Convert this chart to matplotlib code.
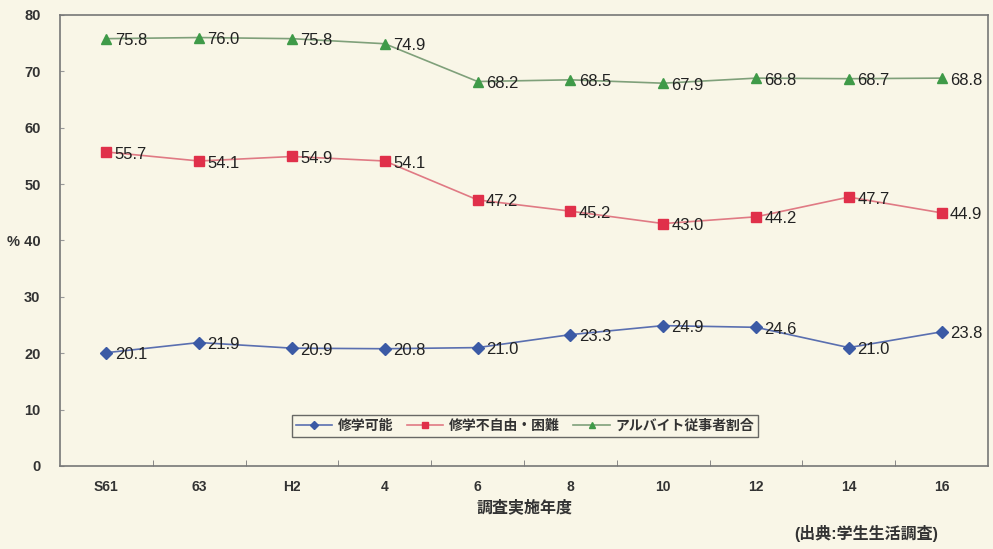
import numpy as np
import matplotlib.pyplot as plt

plt.rcParams['font.family'] = ['Liberation Sans', 'Noto Sans CJK JP', 'DejaVu Sans']

# survey years and share of students (%)
years = ['S61', '63', 'H2', '4', '6', '8', '10', '12', '14', '16']
study_ok = [20.1, 21.9, 20.9, 20.8, 21.0, 23.3, 24.9, 24.6, 21.0, 23.8]
study_hard = [55.7, 54.1, 54.9, 54.1, 47.2, 45.2, 43.0, 44.2, 47.7, 44.9]
part_time = [75.8, 76.0, 75.8, 74.9, 68.2, 68.5, 67.9, 68.8, 68.7, 68.8]
series_names = ['修学可能', '修学不自由・困難', 'アルバイト従事者割合']
yticks = [0, 10, 20, 30, 40, 50, 60, 70, 80]
ytick_labels = ['0', '10', '20', '30', '% 40', '50', '60', '70', '80']

bg = '#f9f6e7'
fig = plt.figure(figsize=(9.93, 5.49), dpi=100, facecolor=bg)
ax = fig.add_axes([0.0604, 0.1512, 0.9346, 0.8215], facecolor=bg)

x = np.arange(len(years))
styles = [
    (study_ok, '#5a6fb0', '#3b5aa5', 'D', 6.5),
    (study_hard, '#e07a84', '#e0304a', 's', 7.5),
    (part_time, '#7fa07a', '#3f9a48', '^', 7.5),
]
for (vals, lc, mc, mk, ms), name in zip(styles, series_names):
    ax.plot(x, vals, color=lc, lw=1.2, marker=mk, ms=ms,
            markerfacecolor=mc, markeredgecolor=mc, label=name)
    for xi, v in zip(x, vals):
        ax.annotate(f'{v:.1f}', (xi, v), xytext=(6, -1.5), textcoords='offset points',
                    ha='left', va='center', fontsize=12, color='#222222')

ax.set_xlim(-0.5, len(years) - 0.5)
ax.set_ylim(0, 80)
ax.set_xticks(x)
ax.set_xticklabels(years, fontsize=10, fontweight='bold', color='#333333')
ax.set_xticks(np.arange(0.5, len(years) - 1, 1), minor=True)
ax.tick_params(axis='x', which='major', length=0, pad=10)
ax.tick_params(axis='x', which='minor', length=4, direction='in', color='#777777')
ax.set_yticks(yticks)
ax.set_yticklabels(ytick_labels, fontsize=10.5, fontweight='bold', color='#333333')
ax.tick_params(axis='y', length=3, direction='in', color='#999999', pad=14)

for s in ax.spines.values():
    s.set_color('#777777')
    s.set_linewidth(1.2)

ax.set_xlabel('調査実施年度', fontsize=11.5, fontweight='bold', color='#333333', labelpad=4)

leg = ax.legend(loc='center', bbox_to_anchor=(0.501, 0.089), ncol=3,
                prop={'weight': 'bold', 'size': 10}, frameon=True, fancybox=False,
                edgecolor='#444444', facecolor=bg, handlelength=2.6, columnspacing=1.0,
                handletextpad=0.4, borderpad=0.3, markerscale=0.6)
leg.get_frame().set_linewidth(1.0)
for t in leg.get_texts():
    t.set_color('#333333')

fig.text(0.872, 0.028, '(出典:学生生活調査)', fontsize=11.5, fontweight='bold',
         color='#333333', ha='center', va='center')

fig.savefig('out.png', dpi=100, facecolor=bg)
